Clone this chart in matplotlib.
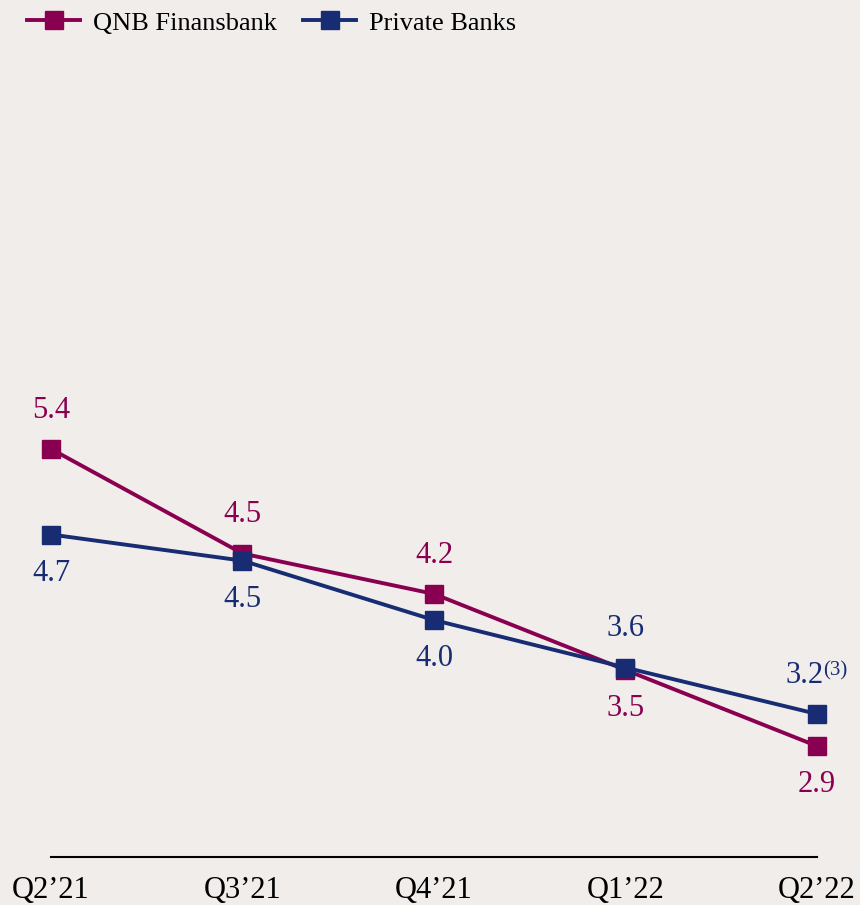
import matplotlib
matplotlib.use('Agg')
import matplotlib.pyplot as plt
from matplotlib.lines import Line2D

quarters = ['Q2\u201921', 'Q3\u201921', 'Q4\u201921', 'Q1\u201922', 'Q2\u201922']
qnb = [5.4, 4.52, 4.18, 3.54, 2.9]
private = [4.68, 4.46, 3.96, 3.56, 3.17]
qnb_label_pos = ['above', 'above', 'above', 'below', 'below']
private_label_pos = ['below', 'below', 'below', 'above', 'above']
footnote = '(3)'

QNB_COLOR = '#8a0050'
PB_COLOR = '#182c74'
BG = '#f1edeb'

plt.rcParams['font.family'] = ['Liberation Serif', 'DejaVu Serif']

fig = plt.figure(figsize=(8.6, 9.05), dpi=100, facecolor=BG)
ax = fig.add_axes([0.0593, 0.053, 0.8907, 0.90])
ax.set_facecolor(BG)

x = list(range(len(quarters)))
ax.plot(x, qnb, color=QNB_COLOR, lw=2.8, marker='s', ms=13, zorder=3, clip_on=False)
ax.plot(x, private, color=PB_COLOR, lw=2.8, marker='s', ms=13, zorder=4, clip_on=False)

def put_labels(vals, pos, color, last_note=None):
    for i, (v, p) in enumerate(zip(vals, pos)):
        dy = 28 if p == 'above' else -28
        if last_note and i == len(vals) - 1:
            # value and superscript note, centred together on the point
            ax.annotate('{:.1f}'.format(v), (i, v), xytext=(4.5, dy), textcoords='offset points',
                        ha='right', va='center', fontsize=22, color=color)
            ax.annotate(last_note, (i, v), xytext=(4.5, dy + 3), textcoords='offset points',
                        ha='left', va='center', fontsize=15, color=color)
        else:
            ax.annotate('{:.1f}'.format(v), (i, v), xytext=(0, dy), textcoords='offset points',
                        ha='center', va='center', fontsize=22, color=color)

put_labels(qnb, qnb_label_pos, QNB_COLOR)
put_labels(private, private_label_pos, PB_COLOR, last_note=footnote)

ax.set_xlim(0, len(quarters) - 1)
ax.set_ylim(1.966, 8.82)
ax.set_xticks(x)
ax.set_xticklabels(quarters, fontsize=22)
ax.tick_params(axis='x', length=0, pad=14)
ax.set_yticks([])
for s in ['top', 'right', 'left']:
    ax.spines[s].set_visible(False)
ax.spines['bottom'].set_linewidth(1.5)
ax.spines['bottom'].set_color('black')

handles = [Line2D([], [], color=QNB_COLOR, lw=2.8, marker='s', ms=13),
           Line2D([], [], color=PB_COLOR, lw=2.8, marker='s', ms=13)]
fig.legend(handles, ['QNB Finansbank', 'Private Banks'], loc='upper left',
           bbox_to_anchor=(0.004, 1.014), ncol=2, frameon=False, fontsize=19,
           handlelength=2.0, handletextpad=0.5, columnspacing=1.0)

fig.savefig('out.png', dpi=100, facecolor=BG)
